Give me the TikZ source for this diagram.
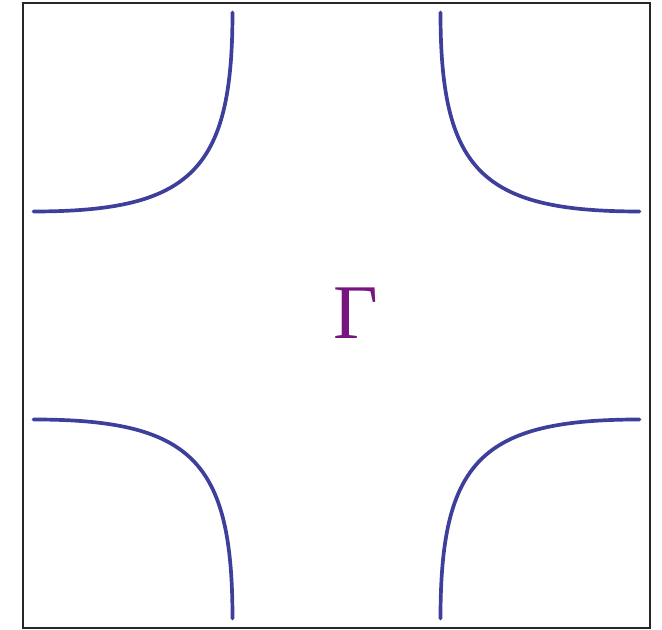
\documentclass[tikz,border=0pt]{standalone}
\usepackage{fontspec}
\usepackage{tikz}

\newfontfamily\gfont{Liberation Serif}
\definecolor{fsblue}{RGB}{62,62,155}
\definecolor{gpurple}{RGB}{120,20,128}

\begin{document}
\begin{tikzpicture}[
  frame/.style={draw=black!85, line width=0.9pt},
  fs/.style={draw=fsblue, line width=2.1pt, line cap=round},
  lbl/.style={text=gpurple, inner sep=0pt, font=\gfont\fontsize{44}{48}\selectfont}]

\useasboundingbox (-6.73,-6.29) rectangle (6.51,6.31);

%% Brillouin zone frame
\draw[frame] (-6.27,-6.25) rectangle (6.27,6.25);

%% Fermi surface pieces, one per corner
\draw[fs] (-6.06,2.08) .. controls (-2.90,2.08) and (-2.08,2.90) .. (-2.08,6.06);
\draw[fs] (6.06,2.08)  .. controls (2.90,2.08)  and (2.08,2.90)  .. (2.08,6.06);
\draw[fs] (-6.06,-2.08) .. controls (-2.90,-2.08) and (-2.08,-2.90) .. (-2.08,-6.06);
\draw[fs] (6.06,-2.08)  .. controls (2.90,-2.08)  and (2.08,-2.90)  .. (2.08,-6.06);

%% zone centre
\node[lbl, anchor=base] (gam) at (0.39,-0.47) {Γ};
\end{tikzpicture}
\end{document}
